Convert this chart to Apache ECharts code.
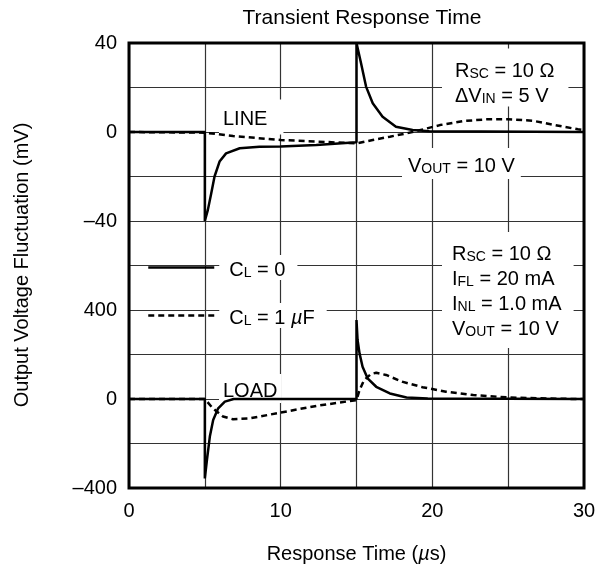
<!DOCTYPE html>
<html>
<head>
<meta charset="utf-8">
<script src="https://cdn.jsdelivr.net/npm/echarts@6/dist/echarts.min.js"></script>
<style>
  html, body { margin: 0; padding: 0; background: #fff; }
  #main { width: 604px; height: 568px; }
</style>
</head>
<body>
<div id="main"></div>
<script>
// upper panel (LINE), mV
var lineSolidT = [0, 5, 5, 5.2, 5.42, 5.64, 5.97, 6.4, 7.3, 8.6, 10, 12.35, 15, 15, 15.3, 15.63, 16.07, 16.72, 17.6, 18.7, 19.8, 30];
var lineSolidV = [0, 0, -40, -35, -27.6, -20, -13.3, -9.6, -7.3, -6.6, -6.5, -5.8, -4.6, 40, 30.9, 20.4, 12.9, 6.9, 2.4, 0.9, 0.3, 0];
var lineDashT = [0, 5, 6.86, 10, 12.35, 15, 16.07, 17.2, 18.3, 19.4, 20.5, 22, 23.6, 25, 26.6, 28.1, 29.6, 30];
var lineDashV = [0, -0.3, -1.8, -3.6, -4.3, -5.1, -3.6, -2.1, -0.6, 1.2, 3.1, 4.9, 5.7, 5.7, 5.1, 3.1, 1.2, 0.8];
// lower panel (LOAD), mV
var loadSolidT = [0, 5, 5, 5.14, 5.33, 5.55, 5.88, 6.32, 6.9, 15, 15, 15.07, 15.2, 15.4, 15.73, 16.3, 17.2, 18.3, 19.7, 30];
var loadSolidV = [0, 0, -357, -274, -169, -94, -42, -12, 0, 0, 355, 265, 205, 145, 93, 55, 25, 7, 2, 0];
var loadDashT = [0, 5, 5.53, 6.2, 6.86, 7.96, 10, 12.35, 15, 15.2, 15.5, 15.95, 16.3, 16.95, 18, 19.35, 20.9, 22.7, 25, 27, 29.5, 30];
var loadDashV = [0, 0, -42, -79, -91, -87, -61, -31, -5, 40, 85, 112, 118, 108, 78, 53, 33, 18, 7, 3, 0, 0];

var upperTicks = { '40': '40', '0': '0', '-40': '–40' };
var lowerTicks = { '400': '400', '0': '0', '-400': '–400' };
var xTicks = { '0': '0', '10': '10', '20': '20', '30': '30' };

var FONT = '"Liberation Sans", Arial, Helvetica, sans-serif';

function zip(t, v) {
	var out = [];
	for (var i = 0; i < t.length; i++) out.push([t[i], v[i]]);
	return out;
}

var richTxt = {
	m: { fontSize: 20, fontFamily: FONT, color: '#000', lineHeight: 25, verticalAlign: 'bottom' },
	s: { fontSize: 14, fontFamily: FONT, color: '#000', lineHeight: 17, verticalAlign: 'bottom' },
	i: { fontSize: 20, fontFamily: FONT, fontStyle: 'italic', color: '#000', lineHeight: 25, verticalAlign: 'bottom' }
};

// x, y = left edge and vertical middle of the white box
function note(x, y, text, pad) {
	return {
		type: 'text', x: x, y: y, z: 1,
		style: {
			text: text, rich: richTxt, fill: '#000',
			font: '20px ' + FONT,
			verticalAlign: 'middle',
			backgroundColor: '#fff', padding: pad
		}
	};
}

var gridLine = { lineStyle: { color: '#333', width: 1.2 } };

var myChart = echarts.init(document.getElementById('main'));
var option = {
	animation: false,
	title: {
		text: 'Transient Response Time',
		left: 357, top: 3, textAlign: 'center',
		textStyle: { fontFamily: FONT, fontSize: 21, fontWeight: 'normal', color: '#000' }
	},
	legend: {
		data: ['CL = 0', 'CL = 1 µF'],
		orient: 'vertical', left: 147, top: 255, padding: 0,
		itemWidth: 66, itemHeight: 10, itemGap: 23,
		selectedMode: false,
		itemStyle: { opacity: 0 },
		lineStyle: { width: 2.5, color: '#000' },
		formatter: function (name) {
			return name === 'CL = 0' ? '{m|C}{s|L}{m| = 0}' : '{m|C}{s|L}{m| = 1 }{i|µ}{m|F}';
		},
		textStyle: {
			fontFamily: FONT, fontSize: 20, lineHeight: 22, color: '#000',
			backgroundColor: '#fff', padding: [0, 12, 0, 10], rich: richTxt
		}
	},
	grid: [
		{ left: 129, top: 43, width: 455, height: 222.5 },
		{ left: 129, top: 265.5, width: 455, height: 222.5 }
	],
	xAxis: [{
		gridIndex: 0, type: 'value', min: 0, max: 30, interval: 5,
		axisLine: { show: false }, axisTick: { show: false }, axisLabel: { show: false },
		splitLine: gridLine
	}, {
		gridIndex: 1, type: 'value', min: 0, max: 30, interval: 5,
		axisLine: { show: false }, axisTick: { show: false },
		axisLabel: {
			margin: 13, fontFamily: FONT, fontSize: 20, color: '#000',
			formatter: function (v) { return xTicks[String(v)] || ''; }
		},
		splitLine: gridLine,
		name: 'Response Time ({i|µ}s)', nameLocation: 'middle', nameGap: 56,
		nameTextStyle: { fontFamily: FONT, fontSize: 20, color: '#000', rich: { i: { fontFamily: FONT, fontSize: 20, fontStyle: 'italic', color: '#000' } } }
	}],
	yAxis: [{
		gridIndex: 0, type: 'value', min: -60, max: 40, interval: 20,
		axisLine: { show: false }, axisTick: { show: false },
		axisLabel: {
			margin: 12, padding: [9, 0, 0, 0], fontFamily: FONT, fontSize: 20, color: '#000',
			formatter: function (v) { return upperTicks[String(v)] || ''; }
		},
		splitLine: gridLine
	}, {
		gridIndex: 1, type: 'value', min: -400, max: 600, interval: 200,
		axisLine: { show: false }, axisTick: { show: false },
		axisLabel: {
			margin: 12, padding: [9, 0, 0, 0], fontFamily: FONT, fontSize: 20, color: '#000',
			formatter: function (v) { return lowerTicks[String(v)] || ''; }
		},
		splitLine: gridLine
	}],
	graphic: [
		// outer frame
		{ type: 'rect', z: 100, shape: { x: 129, y: 43, width: 455, height: 445 }, style: { fill: null, stroke: '#000', lineWidth: 3 } },
		{ type: 'text', x: 22, y: 265, rotation: Math.PI / 2,
		  style: { text: 'Output Voltage Fluctuation (mV)', font: '20px ' + FONT, fill: '#000', align: 'center', verticalAlign: 'middle' } },
		note(219, 117, '{m|LINE}', [5, 16, 5, 4]),
		note(442, 77.5, '{m|R}{s|SC}{m| = 10 Ω}\n{m|ΔV}{s|IN}{m| = 5 V}', [8, 14, 0, 13]),
		note(402, 163.5, '{m|V}{s|OUT}{m| = 10 V}', [3, 6, 3, 6]),
		note(442, 290, '{m|R}{s|SC}{m| = 10 Ω}\n{m|I}{s|FL}{m| = 20 mA}\n{m|I}{s|NL}{m| = 1.0 mA}\n{m|V}{s|OUT}{m| = 10 V}', [7, 12, 9, 10]),
		note(219, 388.5, '{m|LOAD}', [2, 4, 2, 4])
	],
	series: [{
		name: 'CL = 0', type: 'line', xAxisIndex: 0, yAxisIndex: 0, z: 3,
		symbol: 'none', data: zip(lineSolidT, lineSolidV),
		lineStyle: { color: '#000', width: 2.5 }, itemStyle: { color: '#000' }
	}, {
		name: 'CL = 1 µF', type: 'line', xAxisIndex: 0, yAxisIndex: 0, z: 3,
		symbol: 'none', data: zip(lineDashT, lineDashV),
		lineStyle: { color: '#000', width: 2.5, type: [6, 4] }, itemStyle: { color: '#000' }
	}, {
		name: 'CL = 0', type: 'line', xAxisIndex: 1, yAxisIndex: 1, z: 3,
		symbol: 'none', data: zip(loadSolidT, loadSolidV),
		lineStyle: { color: '#000', width: 2.5 }, itemStyle: { color: '#000' }
	}, {
		name: 'CL = 1 µF', type: 'line', xAxisIndex: 1, yAxisIndex: 1, z: 3,
		symbol: 'none', data: zip(loadDashT, loadDashV),
		lineStyle: { color: '#000', width: 2.5, type: [6, 4] }, itemStyle: { color: '#000' }
	}]
};
myChart.setOption(option);
</script>
</body>
</html>
